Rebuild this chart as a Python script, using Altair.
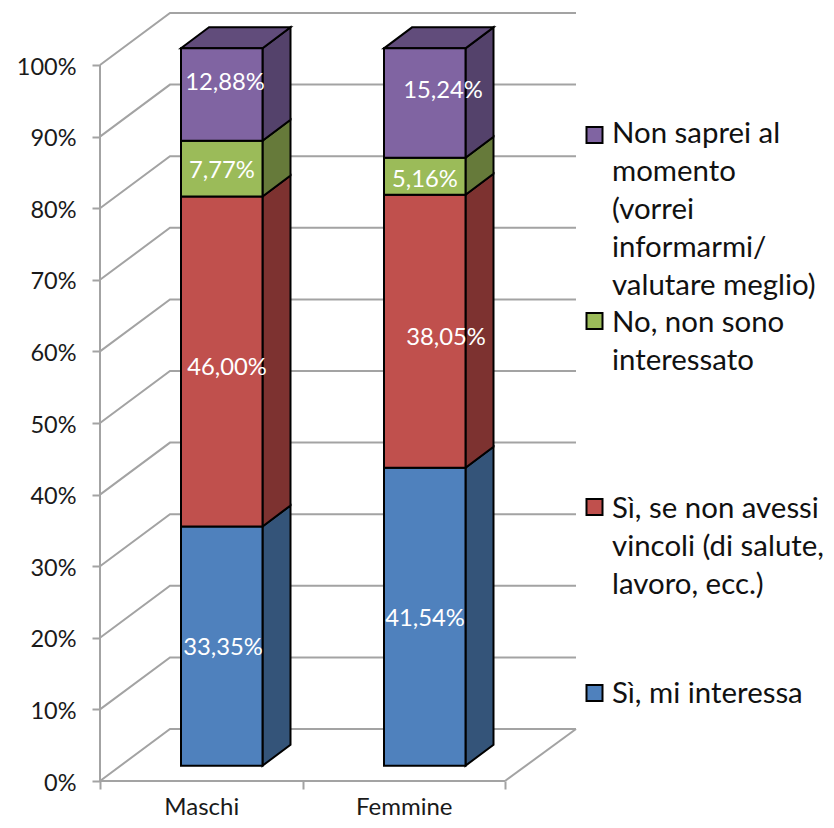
import altair as alt
import pandas as pd

# ---- chart values ----
CATEGORIES = ["Maschi", "Femmine"]
SERIES = ["Sì, mi interessa", "Sì, se non avessi vincoli", "No, non sono interessato", "Non saprei al momento"]
MASCHI = [33.35, 46.00, 7.77, 12.88]
FEMMINE = [41.54, 38.05, 5.16, 15.24]
LABELS_M = ["33,35%", "46,00%", "7,77%", "12,88%"]
LABELS_F = ["41,54%", "38,05%", "5,16%", "15,24%"]
LEGEND_TEXT = [
    "Non saprei al\nmomento\n(vorrei\ninformarmi/\nvalutare meglio)",
    "No, non sono\ninteressato",
    "Sì, se non avessi\nvincoli (di salute,\nlavoro, ecc.)",
    "Sì, mi interessa",
]
TICKS = list(range(0, 101, 10))

# ---- styles ----
FRONT = ["#4F81BD", "#C0504D", "#9BBB59", "#8064A2"]
SIDE = ["#345479", "#7D3230", "#667A3A", "#54426B"]
TOP = "#614C7B"
GRID = "#A3A3A3"
FONT = "Lato"

# ---- layout: plot area in page pixels -> chart units ----
PX_LEFT, PX_BOTTOM, PX_TOP, PX_RIGHT = 100, 781, 8, 826
PX_PER_CAT, PX_PER_PCT = 202.5, 7.16


def X(px):
    return (px - PX_LEFT) / PX_PER_CAT


def Y(py):
    return (PX_BOTTOM - py) / PX_PER_PCT


XDOM = [0, X(PX_RIGHT)]
YDOM = [0, Y(PX_TOP)]
xs = alt.Scale(domain=XDOM, nice=False, zero=False)
ys = alt.Scale(domain=YDOM, nice=False, zero=False)

# walls
WALL_DX, WALL_DY = X(170), Y(729)
WALL_R = X(576)
grid_rows = []
for t in TICKS:
    grid_rows += [
        dict(k=f"g{t}", o=0, x=0, y=t),
        dict(k=f"g{t}", o=1, x=WALL_DX, y=t + WALL_DY),
        dict(k=f"g{t}", o=2, x=WALL_R, y=t + WALL_DY),
    ]
grid_rows += [
    dict(k="floor", o=0, x=X(505), y=0),
    dict(k="floor", o=1, x=WALL_R, y=WALL_DY),
]
grid_rows += [
    dict(k="axy", o=0, x=0, y=0),
    dict(k="axy", o=1, x=0, y=100),
    dict(k="axx", o=0, x=0, y=0),
    dict(k="axx", o=1, x=2, y=0),
]

# bars
BAR_LEFTS = [X(181), X(384)]
BAR_W = 81.5 / PX_PER_CAT
BAR_DX, BAR_DY = 28 / PX_PER_CAT, 21 / PX_PER_PCT
BAR_BASE, BAR_K = Y(765.7), 717.4 / 716

front_rows, side_rows, top_rows = [], [], []
for b, (left, vals) in enumerate(zip(BAR_LEFTS, [MASCHI, FEMMINE])):
    c = 0.0
    for s, v in enumerate(vals):
        lo = BAR_BASE + c * BAR_K
        c += v
        hi = BAR_BASE + c * BAR_K
        front_rows.append(dict(x=left, x2=left + BAR_W, y=lo, y2=hi, fill=FRONT[s]))
        k = f"{b}-{s}"
        r = left + BAR_W
        side_rows += [
            dict(k=k, x=r, y=lo, y2=hi, fill=SIDE[s]),
            dict(k=k, x=r + BAR_DX, y=lo + BAR_DY, y2=hi + BAR_DY, fill=SIDE[s]),
        ]
    top_rows += [
        dict(k=b, y=hi, x=left, x2=left + BAR_W),
        dict(k=b, y=hi + BAR_DY, x=left + BAR_DX, x2=left + BAR_W + BAR_DX),
    ]

# value labels (page positions of the label centres)
LABEL_PX_M = [(223, 648), (227, 368), (222, 171), (225, 83)]
LABEL_PX_F = [(425, 619), (446, 338), (425, 180), (443, 91)]
label_rows = [
    dict(x=X(p[0]), y=Y(p[1]), t=t)
    for p, t in zip(LABEL_PX_M + LABEL_PX_F, LABELS_M + LABELS_F)
]

# legend
LEG_SYM_PY = [135, 321, 507, 693]
LEG_BASE_PY = [143, 332, 518, 703]
leg_rows = [
    dict(x=X(594.5), xt=X(612), y=Y(a), yt=Y(b), t=t, fill=f)
    for a, b, t, f in zip(LEG_SYM_PY, LEG_BASE_PY, LEGEND_TEXT, FRONT[::-1])
]

tick_vals = [0, 0.5, 1, 1.5, 2]
x_axis = alt.Axis(
    values=tick_vals, domain=False, grid=False, title=None, tickSize=8, tickWidth=2, tickColor=GRID,
    labelFont=FONT, labelFontSize=24, labelColor="#1a1a1a", labelPadding=6, labelFlush=False, labelOverlap=False,
    labelExpr=f"datum.value==0.5?'{CATEGORIES[0]}':datum.value==1.5?'{CATEGORIES[1]}':''",
    tickOpacity={"condition": {"test": "datum.value==0.5||datum.value==1.5", "value": 0}, "value": 1},
)
y_axis = alt.Axis(
    values=TICKS, domain=False, grid=False, title=None, tickSize=8, tickWidth=2, tickColor=GRID,
    labelFont=FONT, labelFontSize=23.5, labelColor="#1a1a1a", labelPadding=16, labelFlush=False, labelOverlap=False,
    labelOffset=2, labelExpr="datum.value+'%'",
)

grid = alt.Chart(pd.DataFrame(grid_rows)).mark_line(color=GRID, strokeWidth=2).encode(
    x=alt.X("x:Q", scale=xs, axis=x_axis),
    y=alt.Y("y:Q", scale=ys, axis=y_axis),
    detail="k:N",
    order="o:Q",
)
front = alt.Chart(pd.DataFrame(front_rows)).mark_rect(stroke="black", strokeWidth=2).encode(
    x=alt.X("x:Q", scale=xs, axis=x_axis),
    x2="x2:Q",
    y=alt.Y("y:Q", scale=ys, axis=y_axis),
    y2="y2:Q",
    fill=alt.Fill("fill:N", scale=None),
)
side = alt.Chart(pd.DataFrame(side_rows)).mark_area(stroke="black", strokeWidth=2, interpolate="linear").encode(
    x=alt.X("x:Q", scale=xs, axis=x_axis),
    y=alt.Y("y:Q", scale=ys, axis=y_axis),
    y2="y2:Q",
    fill=alt.Fill("fill:N", scale=None),
    detail="k:N",
)
top = alt.Chart(pd.DataFrame(top_rows)).mark_area(
    stroke="black", strokeWidth=2, orient="horizontal", fill=TOP, interpolate="linear"
).encode(
    y=alt.Y("y:Q", scale=ys, axis=y_axis),
    x=alt.X("x:Q", scale=xs, axis=x_axis),
    x2="x2:Q",
    detail="k:N",
)
labels = alt.Chart(pd.DataFrame(label_rows)).mark_text(
    color="white", font=FONT, fontSize=23.8, align="center", baseline="middle"
).encode(
    x=alt.X("x:Q", scale=xs, axis=x_axis),
    y=alt.Y("y:Q", scale=ys, axis=y_axis),
    text="t:N",
)
leg_df = pd.DataFrame(leg_rows)
leg_sym = alt.Chart(leg_df).mark_square(size=256, stroke="black", strokeWidth=2, opacity=1).encode(
    x=alt.X("x:Q", scale=xs, axis=x_axis),
    y=alt.Y("y:Q", scale=ys, axis=y_axis),
    fill=alt.Fill("fill:N", scale=None),
)
leg_txt = alt.Chart(leg_df).mark_text(
    color="#111111", font=FONT, fontSize=29.4, align="left", baseline="alphabetic", lineBreak="\n", lineHeight=38
).encode(
    x=alt.X("xt:Q", scale=xs, axis=x_axis),
    y=alt.Y("yt:Q", scale=ys, axis=y_axis),
    text="t:N",
)

chart = (
    alt.layer(grid, side, top, front, labels, leg_sym, leg_txt)
    .properties(
        width=PX_RIGHT - PX_LEFT,
        height=PX_BOTTOM - PX_TOP,
        autosize=alt.AutoSizeParams(type="none"),
        padding={"left": PX_LEFT - 8, "top": 0, "right": 0, "bottom": 39},
        background="white",
    )
    .configure_view(stroke=None)
)
chart.save("out.html", embed_options={"renderer": "svg", "actions": False})
